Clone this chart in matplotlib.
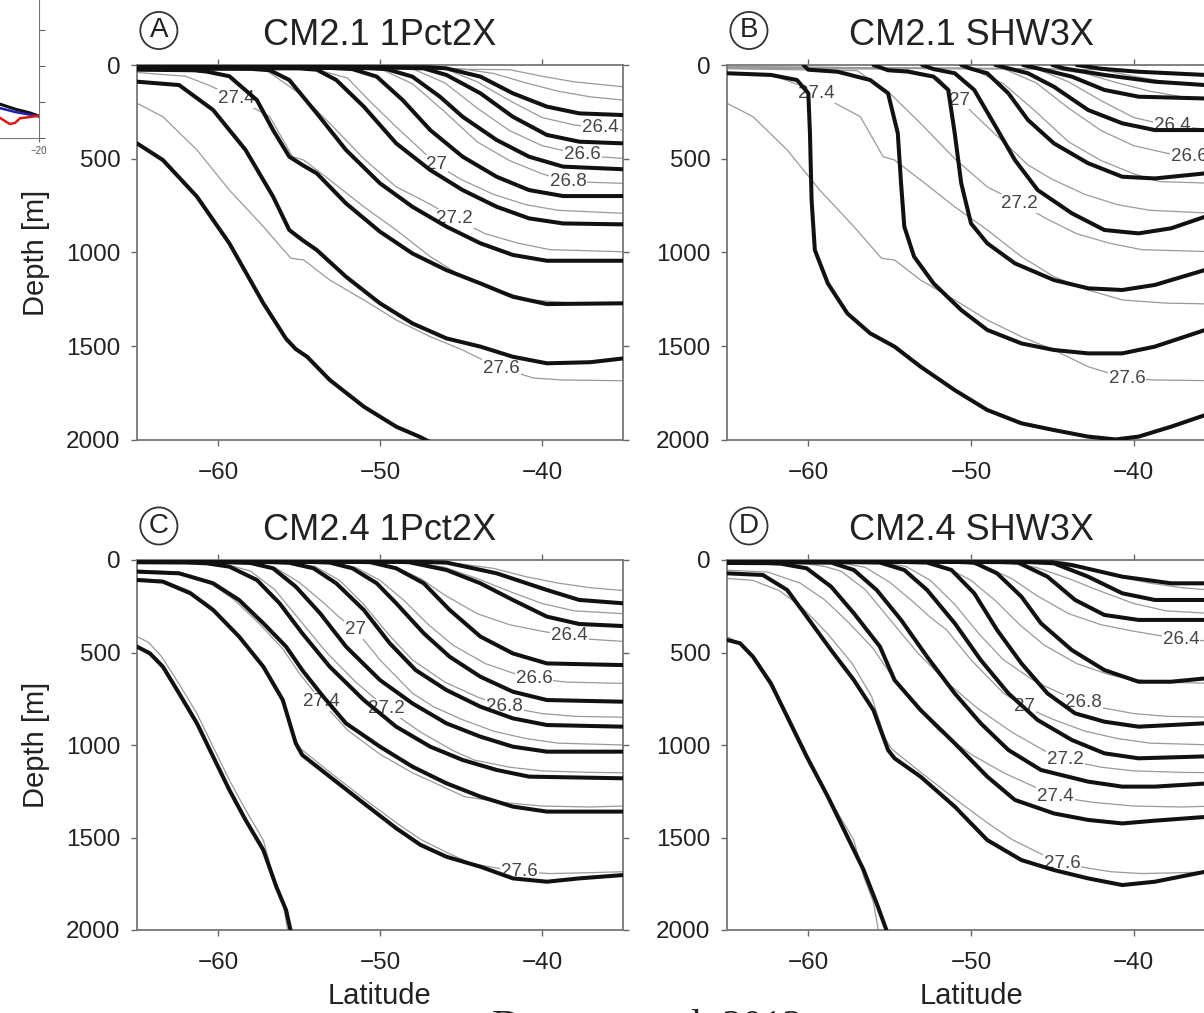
import matplotlib
matplotlib.use("Agg")
import matplotlib.pyplot as plt
import numpy as np

plt.rcParams["font.family"] = ["Liberation Sans", "DejaVu Sans"]

# ---- CM2.1 1Pct2X (panel A), thick isopycnals 26.2 ... 27.8
a_lat = [
    [-65, -47, -45.9, -43.8, -41.8, -39.7, -37.7, -35],
    [-65, -49, -47.3, -45.9, -43.8, -41.8, -39.7, -37.7, -35],
    [-65, -51, -49.6, -48, -46.3, -44.9, -42.8, -40.8, -38.7, -35],
    [-65, -53, -51.7, -50.2, -48.6, -46.9, -44.9, -42.8, -40.8, -38.7, -35],
    [-65, -55, -53.9, -52.7, -51, -49, -46.9, -44.9, -42.8, -40.8, -38.7, -35],
    [-65, -58, -56.8, -55.6, -53.9, -52.1, -50, -48, -45.9, -43.8, -41.8, -39.7, -35],
    [-65, -61.5, -60.7, -59.3, -57.6, -56.6, -55.6, -54.8, -53.9, -52.1, -50, -48, -45.9, -43.8, -41.8, -39.7, -35],
    [-65, -62.4, -60.3, -58.3, -56.6, -55.6, -54.8, -53.9, -52.1, -50, -48, -45.9, -43.8, -41.8, -39.7, -37, -35],
    [-65, -63.4, -61.3, -59.3, -57.2, -55.8, -55.2, -54.5, -53.1, -51, -49, -47.5, -46.5],
]
a_dep = [
    [8, 12, 18, 62, 151, 222, 258, 267],
    [10, 14, 18, 53, 151, 276, 373, 409, 418],
    [12, 16, 22, 62, 169, 276, 400, 489, 542, 556],
    [14, 16, 22, 62, 187, 347, 489, 596, 667, 699, 699],
    [16, 18, 25, 80, 222, 418, 560, 667, 756, 818, 845, 850],
    [18, 20, 28, 80, 258, 453, 631, 756, 862, 951, 1013, 1044, 1044],
    [25, 28, 35, 60, 187, 347, 489, 533, 578, 738, 889, 1005, 1094, 1165, 1236, 1275, 1271],
    [89, 107, 240, 453, 702, 880, 933, 987, 1129, 1271, 1378, 1458, 1502, 1556, 1591, 1585, 1565],
    [418, 507, 702, 951, 1271, 1460, 1515, 1556, 1680, 1822, 1929, 1985, 2030],
]

# ---- CM2.1 SHW3X (panel B)
b_lat = [
    [-43.5, -42, -39.7, -35.6, -35],
    [-45, -44.3, -41.8, -38.7, -35.6, -35],
    [-46.8, -45.9, -43.8, -41.8, -39.7, -35],
    [-48.5, -47.7, -46.5, -44.9, -42.8, -40.7, -38.7, -35],
    [-50.6, -50, -49, -47.7, -46.5, -44.9, -42.8, -40.7, -38.7, -35.6, -35],
    [-53, -52.3, -51, -49.8, -48.6, -47.3, -45.9, -43.8, -41.8, -39.7, -37.7, -35.6, -35],
    [-56, -55.1, -53.9, -52.3, -51.4, -51, -50.6, -50, -49, -47.3, -44.9, -42.8, -40.7, -38.7, -35.6, -35],
    [-60.3, -60, -58.2, -56.2, -55.1, -54.5, -54.3, -54.1, -53.5, -52.3, -50.6, -49, -46.9, -44.9, -42.8, -40.7, -38.7, -35.6, -35],
    [-65, -62.3, -60.7, -60, -59.9, -59.8, -59.6, -58.8, -57.6, -56.2, -54.7, -53.1, -51, -49, -46.9, -44.9, -42.8, -41.1, -39.7, -37.7, -35.6, -35],
]
b_dep = [
    [0, 20, 36, 53, 56],
    [0, 18, 53, 89, 107, 110],
    [0, 18, 62, 133, 169, 180],
    [0, 18, 44, 116, 240, 311, 347, 347],
    [0, 20, 44, 151, 293, 418, 524, 596, 605, 578, 570],
    [0, 22, 44, 133, 311, 507, 667, 791, 880, 898, 871, 809, 790],
    [0, 28, 35, 62, 133, 364, 631, 845, 951, 1058, 1147, 1191, 1200, 1173, 1093, 1075],
    [0, 25, 36, 80, 151, 364, 631, 862, 1022, 1165, 1307, 1413, 1485, 1520, 1538, 1538, 1502, 1413, 1395],
    [44, 53, 80, 151, 364, 720, 987, 1165, 1325, 1431, 1502, 1609, 1734, 1840, 1911, 1947, 1982, 1997, 1982, 1929, 1867, 1845],
]

# ---- CM2.4 1Pct2X (panel C), thick isopycnals 26.0 ... 27.8
c_lat = [
    [-65, -47.5, -45.9, -42.8, -39.7, -37.7, -35],
    [-65, -49.5, -48.2, -45.9, -43.8, -41.8, -39.7, -37.7, -35],
    [-65, -52, -50.6, -49, -47.3, -45.7, -43.8, -41.8, -39.7, -35],
    [-65, -54.5, -53.1, -51.7, -50.2, -49, -47.3, -45.7, -43.8, -41.8, -39.7, -35],
    [-65, -57, -55.6, -54.1, -52.7, -51, -49.4, -47.8, -45.9, -43.8, -41.8, -39.7, -35],
    [-65, -59.5, -58, -56.6, -55.2, -53.7, -52.1, -50, -48, -45.9, -43.8, -41.8, -39.7, -35],
    [-65, -62, -60.7, -59.3, -57.6, -56.2, -54.8, -53.1, -51, -49, -46.9, -44.9, -42.8, -40.8, -35],
    [-65, -62.4, -60.3, -58.7, -57.2, -55.8, -54.8, -53.5, -52.1, -50, -48, -45.9, -43.8, -41.8, -39.7, -35],
    [-65, -63.4, -61.7, -60.3, -58.7, -57.2, -56, -55.2, -54.8, -53.1, -51, -49, -47.5, -45.9, -43.8, -41.8, -39.7, -37.7, -35],
    [-65, -64.2, -63.4, -62.4, -61.3, -60.3, -59.3, -58.3, -57.2, -56.4, -55.8, -55.5],
]
c_dep = [
    [8, 10, 14, 72, 162, 216, 234],
    [8, 9, 12, 54, 126, 216, 306, 346, 357],
    [8, 9, 12, 45, 126, 270, 414, 505, 559, 568],
    [9, 10, 14, 45, 126, 234, 396, 523, 631, 712, 757, 766],
    [10, 11, 15, 45, 126, 270, 450, 595, 703, 793, 856, 892, 901],
    [11, 12, 16, 45, 144, 288, 468, 649, 775, 883, 955, 1009, 1036, 1036],
    [12, 13, 18, 36, 108, 234, 396, 577, 757, 901, 1009, 1081, 1135, 1171, 1180],
    [63, 72, 126, 216, 342, 468, 595, 739, 883, 1009, 1117, 1207, 1279, 1333, 1360, 1360],
    [108, 117, 180, 270, 414, 577, 757, 991, 1054, 1171, 1315, 1450, 1540, 1604, 1658, 1721, 1739, 1721, 1703],
    [468, 505, 577, 721, 883, 1063, 1243, 1405, 1568, 1766, 1892, 2010],
]

# ---- CM2.4 SHW3X (panel D)
d_lat = [
    [-65, -45, -43.8, -40.7, -37.7, -35],
    [-65, -46.5, -44.9, -42.8, -40.7, -38.7, -35],
    [-65, -48.5, -47.1, -45.3, -43.6, -41.8, -39.7, -35],
    [-65, -51, -49.8, -48.4, -46.9, -45.7, -43.8, -41.8, -39.7, -37.7, -35],
    [-65, -54, -52.7, -51.2, -49.8, -48.4, -46.9, -45.3, -43.6, -41.8, -39.7, -35],
    [-65, -57, -55.6, -54.1, -52.7, -51, -49.4, -47.7, -45.9, -43.8, -41.8, -39.7, -35],
    [-65, -60, -58.6, -57.2, -55.8, -54.3, -52.7, -51, -49.4, -47.7, -45.7, -42.8, -40.7, -38.7, -35],
    [-65, -62.5, -61.7, -60.1, -58.6, -57.2, -55.6, -54.7, -53.1, -51, -49, -47.3, -44.9, -42.8, -40.7, -38.7, -35],
    [-65, -62.8, -61.3, -60.1, -58.6, -57.2, -56, -55.1, -54.7, -53.1, -51, -49, -46.9, -44.9, -42.8, -40.7, -38.7, -35.6, -35],
    [-65, -64.2, -63.4, -62.3, -61.3, -60.1, -58.8, -57.6, -56.6, -55.8, -55.2],
]
d_dep = [
    [8, 12, 27, 90, 126, 126],
    [8, 10, 18, 90, 180, 216, 216],
    [9, 10, 14, 90, 216, 297, 324, 324],
    [9, 10, 14, 72, 198, 342, 487, 595, 658, 658, 635],
    [10, 11, 14, 54, 180, 378, 559, 721, 829, 874, 901, 880],
    [11, 12, 14, 54, 162, 342, 541, 721, 865, 973, 1045, 1072, 1060],
    [12, 13, 14, 54, 162, 324, 523, 721, 883, 1027, 1135, 1198, 1225, 1225, 1205],
    [16, 17, 20, 45, 144, 288, 468, 649, 811, 991, 1171, 1297, 1370, 1405, 1424, 1409, 1385],
    [72, 81, 162, 306, 487, 649, 811, 1027, 1072, 1171, 1333, 1514, 1622, 1676, 1721, 1757, 1739, 1685, 1670],
    [432, 450, 523, 667, 847, 1063, 1279, 1496, 1676, 1856, 2000],
]

# ---- control runs (thin grey), shared by the two panels of each model
ctrl21_lev = [26.0, 26.2, 26.4, 26.6, 26.8, 27.0, 27.2, 27.4, 27.6]
ctrl21_lat = [
    [-65, -42, -40, -38, -35],
    [-65, -45, -43, -41, -39, -37, -35],
    [-65, -46, -44, -42, -40, -38, -36.4, -35],
    [-65, -48, -46, -44, -42, -40, -38, -36.6, -35],
    [-65, -50, -48, -46, -44, -42, -40, -38.4, -35],
    [-65, -54, -52, -50.7, -49, -47.5, -46.5, -45, -43, -41, -39, -35],
    [-65, -57, -55, -53, -51, -49, -47, -45.4, -43.5, -41.5, -39.5, -35],
    [-65, -62, -60.5, -59.5, -58.9, -56.8, -55.4, -54.7, -53.1, -51, -49, -46.9, -44.9, -42.8, -40.7, -38, -35],
    [-65, -63.4, -61.3, -59.3, -57.2, -55.5, -54.7, -53.1, -51, -49, -46.9, -44.9, -42.8, -40.5, -38.7, -35],
]
ctrl21_dep = [
    [8, 25, 60, 90, 116],
    [10, 20, 45, 95, 140, 170, 187],
    [12, 20, 90, 190, 280, 320, 335, 347],
    [14, 20, 95, 230, 350, 430, 470, 489, 498],
    [16, 20, 100, 250, 410, 510, 580, 622, 631],
    [18, 22, 70, 187, 330, 450, 533, 610, 690, 745, 775, 791],
    [20, 30, 150, 320, 500, 650, 738, 818, 900, 950, 985, 996],
    [40, 60, 110, 151, 178, 276, 489, 507, 613, 756, 880, 1022, 1129, 1200, 1253, 1270, 1275],
    [204, 276, 453, 667, 862, 1031, 1040, 1147, 1253, 1360, 1449, 1520, 1609, 1670, 1680, 1684],
]

ctrl24_lev = [26.0, 26.2, 26.4, 26.6, 26.8, 27.0, 27.2, 27.4, 27.6, 27.8]
ctrl24_lat = [
    [-65, -46, -43, -41, -39, -37, -35],
    [-65, -48, -46, -44, -42, -40, -38, -35],
    [-65, -50.5, -49, -47.5, -46, -44, -42, -40, -38.3, -37.1, -35],
    [-65, -53, -51.5, -50, -48.5, -47, -45.5, -43.5, -41.5, -40.5, -38.5, -35],
    [-65, -55.5, -54, -52.5, -51, -49.5, -48, -46, -44, -42.3, -40, -38, -35],
    [-65, -58, -56.5, -55, -53.5, -52.5, -51.5, -50, -48, -46.7, -45, -43, -41, -39, -35],
    [-65, -60.5, -59, -58, -56.5, -55, -53.3, -51.5, -49.6, -47.5, -45.5, -44.2, -42, -40, -37, -35],
    [-65, -62.5, -60.5, -59, -57.5, -56, -55, -53.6, -52, -50, -48, -46, -44.8, -42.5, -40, -37, -35],
    [-65, -63.4, -61.8, -60.4, -58.8, -57.3, -56.1, -55.3, -54.9, -53.2, -51, -49, -47.5, -45.9, -44.4, -42.5, -41.4, -39.5, -37, -35],
    [-65, -64.3, -63.5, -62.4, -61.3, -60.3, -59.3, -58.3, -57.2, -56.6, -56, -55.7],
]
ctrl24_dep = [
    [8, 10, 45, 90, 125, 150, 165],
    [9, 11, 40, 100, 170, 235, 275, 290],
    [10, 12, 40, 100, 190, 290, 350, 385, 410, 428, 440],
    [11, 13, 40, 110, 220, 350, 460, 560, 620, 640, 660, 667],
    [12, 14, 35, 110, 240, 400, 540, 660, 740, 793, 830, 845, 850],
    [14, 16, 40, 120, 230, 310, 378, 540, 720, 793, 860, 925, 965, 990, 1000],
    [12, 15, 35, 60, 160, 320, 500, 660, 802, 930, 1030, 1081, 1120, 1140, 1148, 1150],
    [55, 65, 125, 215, 340, 480, 610, 766, 920, 1050, 1150, 1230, 1279, 1310, 1330, 1335, 1330],
    [100, 110, 165, 255, 400, 560, 740, 960, 1020, 1140, 1290, 1420, 1510, 1580, 1640, 1670, 1685, 1695, 1690, 1685],
    [414, 445, 520, 670, 830, 1010, 1190, 1350, 1515, 1710, 1850, 2000],
]

# contour labels on the control lines: (level, latitude)
a_labels = [(27.4, -58.9), (27.0, -46.5), (27.2, -45.4), (26.4, -36.4), (26.6, -37.5), (26.8, -38.4), (27.6, -42.5)]
b_labels = [(27.4, -59.5), (27.0, -50.7), (27.2, -47.0), (26.4, -37.6), (26.6, -36.6), (27.6, -40.4)]
c_labels = [(27.0, -51.5), (26.4, -38.3), (26.6, -40.5), (26.8, -42.3), (27.4, -53.6), (27.2, -49.6), (27.6, -41.4)]
d_labels = [(26.4, -37.1), (26.8, -43.1), (27.0, -46.7), (27.2, -44.2), (27.4, -44.8), (27.6, -44.4)]

# fragment of the neighbouring figure (top-left corner)
frag_x = [-32, -28.3, -25, -22, -20]
frag_black = [1.2, 0.94, 0.8, 0.7, 0.61]
frag_blue = [1.0, 0.83, 0.72, 0.65, 0.6]
frag_red_x = [-32, -28.3, -27, -26.2, -25.1, -24, -22, -20]
frag_red = [0.6, 0.56, 0.45, 0.39, 0.42, 0.55, 0.58, 0.62]

W, H = 1204, 1013
fig = plt.figure(figsize=(W / 100, H / 100), dpi=100)


def axes_px(left, top, width, height):
    return fig.add_axes([left / W, 1 - (top + height) / H, width / W, height / H])


def panel(ax, th_lat, th_dep, g_lat, g_dep, g_lev, labels, letter, title, ylab, xlab):
    for la, de in zip(g_lat, g_dep):
        ax.plot(la, de, color="#9a9a9a", lw=0.9, zorder=1)
    for lev, lat in labels:
        i = g_lev.index(lev)
        d = np.interp(lat, g_lat[i], g_dep[i])
        ax.text(lat, d, f"{lev:g}", fontsize=13.5, color="#444444", ha="center", va="center", zorder=2,
                bbox=dict(boxstyle="square,pad=0.05", fc="white", ec="none"))
    for la, de in zip(th_lat, th_dep):
        ax.plot(la, de, color="#111111", lw=2.9, zorder=3, solid_joinstyle="round", solid_capstyle="round")
    ax.set_xlim(-65, -35)
    ax.set_ylim(2000, 0)
    ax.set_xticks([-60, -50, -40])
    ax.set_yticks([0, 500, 1000, 1500, 2000])
    ax.tick_params(direction="out", length=4, width=1, top=True, right=True, labelsize=17.5,
                   color="#666666", labelcolor="#222222")
    ax.tick_params(axis="x", pad=12)
    ax.tick_params(axis="y", pad=8)
    for s in ax.spines.values():
        s.set_color("#777777")
        s.set_linewidth(1.3)
    ax.text(0.045, 1.092, letter, transform=ax.transAxes, fontsize=20, ha="center", va="center", color="#222222",
            bbox=dict(boxstyle="circle,pad=0.2", fc="none", ec="#333333", lw=1.3))
    ax.text(0.5, 1.053, title, transform=ax.transAxes, fontsize=26, ha="center", va="baseline", color="#222222")
    if ylab:
        ax.set_ylabel("Depth [m]", fontsize=21, color="#222222")
        ax.yaxis.set_label_coords(-0.18, 0.5)
    if xlab:
        ax.set_xlabel("Latitude", fontsize=21, color="#222222")
        ax.xaxis.set_label_coords(0.5, -0.14)


axA = axes_px(137, 65, 486, 375)
axB = axes_px(727, 65, 488, 375)
axC = axes_px(137, 560, 486, 370)
axD = axes_px(727, 560, 488, 370)

panel(axA, a_lat, a_dep, ctrl21_lat, ctrl21_dep, ctrl21_lev, a_labels, "A", "CM2.1 1Pct2X", True, False)
panel(axB, b_lat, b_dep, ctrl21_lat, ctrl21_dep, ctrl21_lev, b_labels, "B", "CM2.1 SHW3X", False, False)
panel(axC, c_lat, c_dep, ctrl24_lat, ctrl24_dep, ctrl24_lev, c_labels, "C", "CM2.4 1Pct2X", True, True)
panel(axD, d_lat, d_dep, ctrl24_lat, ctrl24_dep, ctrl24_lev, d_labels, "D", "CM2.4 SHW3X", False, True)

# neighbouring figure fragment
axF = axes_px(-102, -6, 141, 144)
axF.plot(frag_x, frag_black, color="#111111", lw=2.2)
axF.plot(frag_x, frag_blue, color="#2020b0", lw=1.8)
axF.plot(frag_red_x, frag_red, color="#e01818", lw=1.8)
axF.set_xlim(-50, -20)
axF.set_ylim(0, 4)
axF.set_xticks([-40, -30, -20])
axF.set_yticks([0, 1, 2, 3, 4])
axF.tick_params(axis="y", left=False, right=True, labelleft=False, direction="out", length=4, color="#666666")
axF.tick_params(axis="x", direction="out", length=3, labelsize=7, color="#666666", labelcolor="#555555", pad=3)
for s in axF.spines.values():
    s.set_color("#777777")

fig.text(0.5374, -0.0237, "Downes et al. 2012", family="Liberation Serif", fontsize=29,
         ha="center", va="baseline", color="#222222")

fig.savefig("out.png", dpi=100)
